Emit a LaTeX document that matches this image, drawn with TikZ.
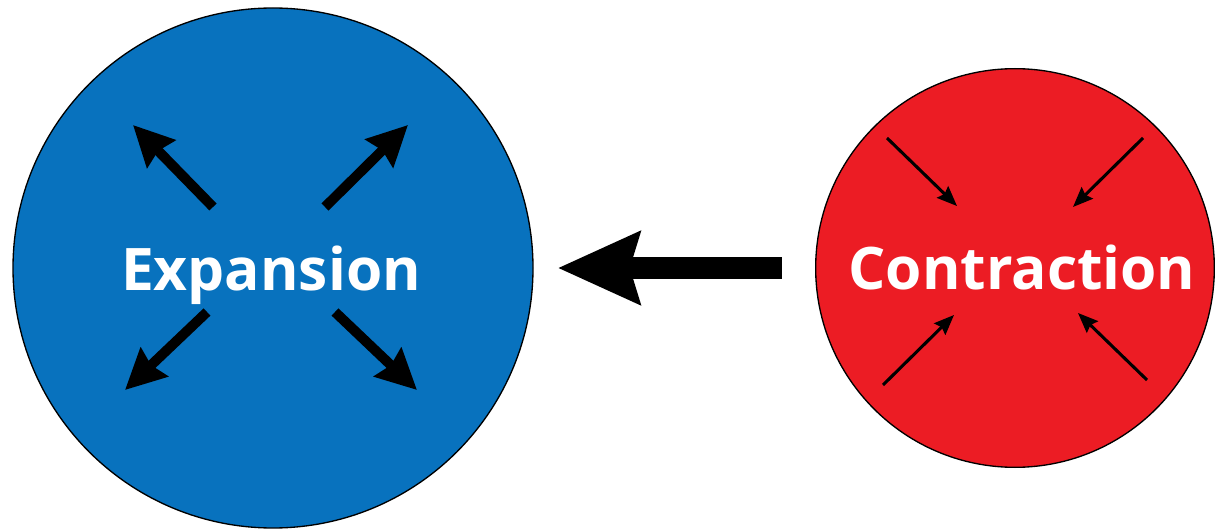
\documentclass[tikz,border=0pt]{standalone}
\usepackage{fontspec}
\setmainfont{Open Sans}
\usetikzlibrary{arrows.meta,calc}
\definecolor{expblue}{RGB}{8,114,190}
\definecolor{conred}{RGB}{236,28,36}
\tikzset{
  ball/.style={circle, draw=black, line width=1pt, inner sep=0pt},
  word/.style={text=white, font=\fontsize{44}{50}\selectfont\bfseries, anchor=base, inner sep=0pt},
  outarrow/.style={line width=7.5pt, -{Stealth[length=30pt, width=29pt, inset=3pt]}},
  inarrow/.style={line width=2.3pt, -{Stealth[length=15pt, width=12pt, inset=2pt]}},
  bigarrow/.style={line width=16.5pt, -{Stealth[length=61pt, width=53pt, inset=7pt]}}
}
\begin{document}
\begin{tikzpicture}[x=0.75pt, y=-0.75pt]
\useasboundingbox (0,0) rectangle (1215,531);
\node[ball, fill=expblue, minimum size=390pt] (exp) at (273,268) {};
\node[ball, fill=conred, minimum size=299pt] (con) at (1015,268) {};
\node[word] (explbl) at (271,291) {Expansion};
\node[word] (conlbl) at (1022,290) {Contraction};
% expansion arrows
\coordinate (e1t) at (213,207); \coordinate (e1h) at (133,125);
\coordinate (e2t) at (325,207); \coordinate (e2h) at (408,125);
\coordinate (e3t) at (207,312); \coordinate (e3h) at (125,390);
\coordinate (e4t) at (335,312); \coordinate (e4h) at (417,390);
\draw[outarrow] (e1t) -- (e1h);
\draw[outarrow] (e2t) -- (e2h);
\draw[outarrow] (e3t) -- (e3h);
\draw[outarrow] (e4t) -- (e4h);
% contraction arrows
\coordinate (c1t) at (887,138); \coordinate (c1h) at (957,206);
\coordinate (c2t) at (1143,138); \coordinate (c2h) at (1073,207);
\coordinate (c3t) at (883,385); \coordinate (c3h) at (954,315);
\coordinate (c4t) at (1147,380); \coordinate (c4h) at (1078,313);
\draw[inarrow] (c1t) -- (c1h);
\draw[inarrow] (c2t) -- (c2h);
\draw[inarrow] (c3t) -- (c3h);
\draw[inarrow] (c4t) -- (c4h);
% big arrow
\draw[bigarrow, shorten <=25pt, shorten >=18pt] (con.west) -- (exp.east);
\end{tikzpicture}
\end{document}
